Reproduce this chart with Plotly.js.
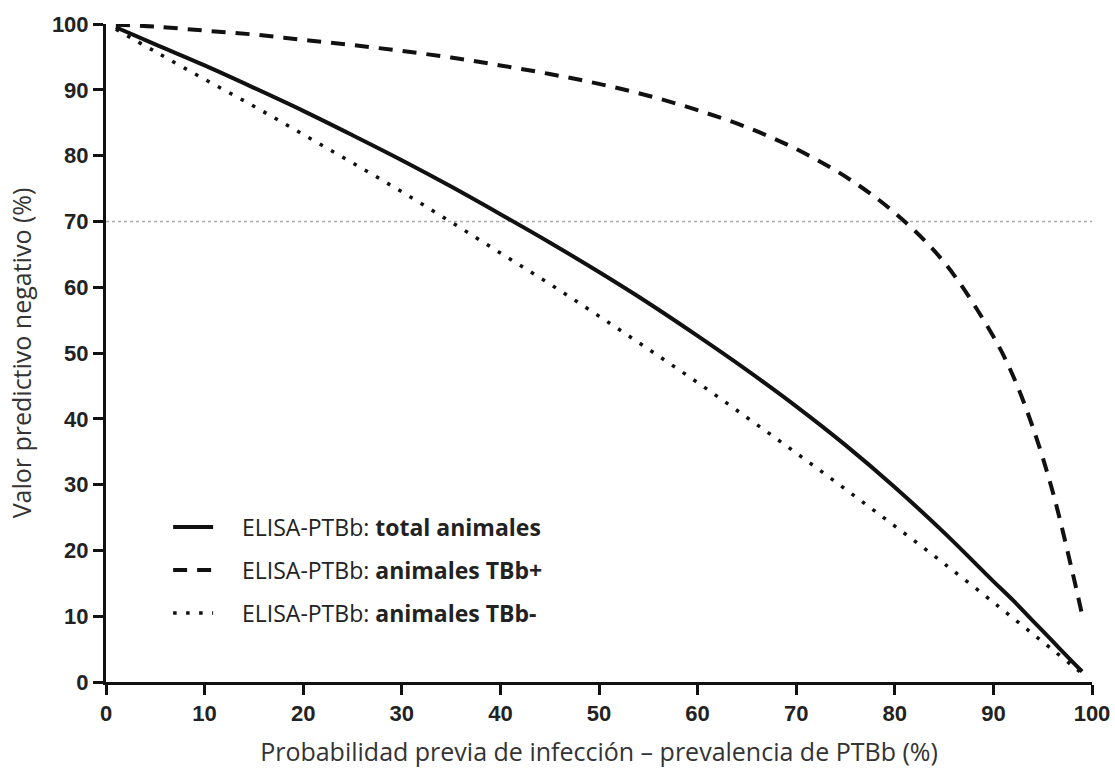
<!DOCTYPE html>
<html>
<head>
<meta charset="utf-8">
<script src="https://cdn.plot.ly/plotly-3.0.1.min.js"></script>
<style>
html,body{margin:0;padding:0;background:#fff;}
#chart{width:1115px;height:773px;}
</style>
</head>
<body>
<div id="chart"></div>
<script>
// Prevalence (%) at which values were read
const prevalence = [1,5,10,15,20,25,30,35,40,45,50,55,60,65,70,75,80,85,90,92,94,96,98,99];
// Negative predictive value (%) – ELISA-PTBb: total animales
const npvTotal = [99.5,96.9,93.7,90.3,86.8,83.1,79.3,75.3,71.1,66.8,62.3,57.6,52.6,47.4,41.9,36.0,29.6,22.7,15.3,12.4,9.3,6.2,3.1,1.6];
// ELISA-PTBb: animales TBb+
const npvPos = [99.9,99.6,99.0,98.4,97.6,96.8,95.9,94.9,93.7,92.4,90.9,89.1,86.9,84.3,81.0,76.8,71.3,63.8,52.5,46.5,38.7,29.0,16.8,10.2];
// ELISA-PTBb: animales TBb-
const npvNeg = [99.2,95.8,91.6,87.5,83.2,78.9,74.5,69.9,65.2,60.5,55.6,50.6,45.5,40.2,34.8,29.3,23.7,18.0,12.1,9.7,7.3,4.9,2.5,1.3];
const seriesPrefix = 'ELISA-PTBb: ';
const seriesLabels = ['total animales', 'animales TBb+', 'animales TBb-'];
const xTicks = [0,10,20,30,40,50,60,70,80,90,100];
const yTicks = [0,10,20,30,40,50,60,70,80,90,100];
const refLineY = 70;
const xTitle = 'Probabilidad previa de infección – prevalencia de PTBb (%)';
const yTitle = 'Valor predictivo negativo (%)';

const ink = '#111111';
const pad = '\u00A0\u00A0\u00A0\u00A0';
const names = seriesLabels.map(s => pad + seriesPrefix + '<b>' + s + '</b>');
const traces = [
  {x: prevalence, y: npvTotal, name: names[0], legendgroup: 'a',
   mode: 'lines', line: {color: ink, width: 4, shape: 'spline', smoothing: 1}},
  {x: prevalence, y: npvPos, name: names[1], legendgroup: 'b',
   mode: 'lines', line: {color: ink, width: 4, dash: '14px,10px', shape: 'spline', smoothing: 1}},
  {x: prevalence, y: npvNeg, name: names[2], legendgroup: 'c',
   mode: 'lines', line: {color: ink, width: 3.5, dash: '3.5px,9.5px', shape: 'spline', smoothing: 1}}
];

const axisCommon = {
  showline: true, linecolor: ink, linewidth: 3,
  ticks: 'outside', ticklen: 10, tickwidth: 3, tickcolor: ink,
  showgrid: false, zeroline: false, mirror: false,
  tickfont: {family: 'Liberation Sans, Arial, sans-serif', size: 22, color: '#222', weight: 'bold'}
};

const layout = {
  width: 1115, height: 773,
  margin: {l: 106, r: 23, t: 24, b: 91, pad: 0},
  paper_bgcolor: '#fff', plot_bgcolor: '#fff',
  showlegend: true,
  legend: {
    x: 0.063, y: 0.268, xanchor: 'left', yanchor: 'top',
    bgcolor: 'rgba(0,0,0,0)', borderwidth: 0,
    traceorder: 'grouped', tracegroupgap: 10, itemwidth: 40,
    font: {family: 'Open Sans, sans-serif', size: 23, color: '#222'}
  },
  xaxis: Object.assign({}, axisCommon, {
    range: [0, 100], tickvals: xTicks, ticktext: xTicks.map(String),
    title: {text: xTitle, font: {family: 'Open Sans, sans-serif', size: 25, color: '#333'}, standoff: 19}
  }),
  yaxis: Object.assign({}, axisCommon, {
    range: [0, 100], tickvals: yTicks, ticktext: yTicks.map(String),
    title: {text: yTitle, font: {family: 'Open Sans, sans-serif', size: 25, color: '#333'}, standoff: 14}
  }),
  shapes: [{
    type: 'line', xref: 'x', yref: 'y', x0: 0, x1: 100, y0: refLineY, y1: refLineY,
    line: {color: '#aaaaaa', width: 1.5, dash: 'dot'}, layer: 'below'
  }]
};

Plotly.newPlot('chart', traces, layout, {displayModeBar: false, staticPlot: true});
</script>
</body>
</html>
